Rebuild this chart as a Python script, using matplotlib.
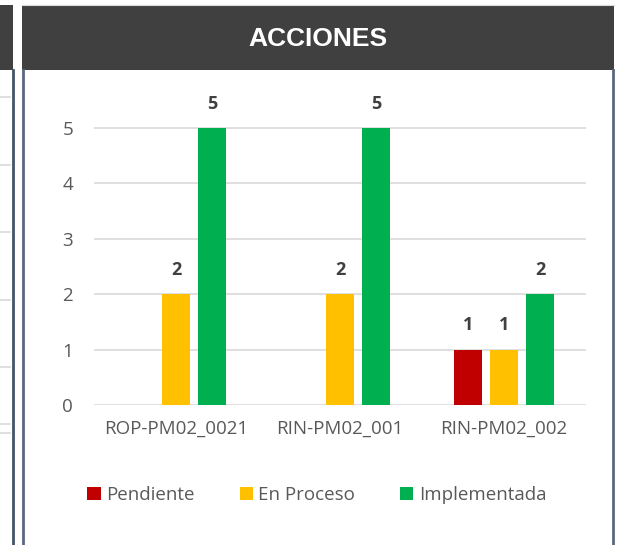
import numpy as np
import matplotlib.pyplot as plt
from matplotlib.patches import Rectangle
from matplotlib.lines import Line2D

categories = ["ROP-PM02_0021", "RIN-PM02_001", "RIN-PM02_002"]
series_names = ["Pendiente", "En Proceso", "Implementada"]
pendiente = [0, 0, 1]
en_proceso = [2, 2, 1]
implementada = [5, 5, 2]
colors = ["#C00000", "#FFC000", "#00B050"]

W, H = 620, 545
fig = plt.figure(figsize=(W / 100, H / 100), dpi=100)
plt.rcParams["font.family"] = ["Open Sans", "DejaVu Sans"]


def fx(px):
    return px / W


def fy(py):
    return 1 - py / H


# panel decoration (header bars and borders)
fig.patches.append(Rectangle((fx(0), fy(70)), fx(13), 65 / H, transform=fig.transFigure,
                             facecolor="#404040", edgecolor="none"))
fig.patches.append(Rectangle((fx(22), fy(70)), fx(592), 65 / H, transform=fig.transFigure,
                             facecolor="#404040", edgecolor="none"))
fig.lines.append(Line2D([fx(22), fx(614)], [fy(5), fy(5)], transform=fig.transFigure,
                        color="#d9d9d9", lw=0.8))
fig.lines.append(Line2D([fx(13), fx(13)], [fy(70), 0], transform=fig.transFigure,
                        color="#44546A", lw=2))
fig.lines.append(Line2D([fx(23), fx(23)], [fy(70), 0], transform=fig.transFigure,
                        color="#5a6780", lw=2))
fig.lines.append(Line2D([fx(613), fx(613)], [fy(70), 0], transform=fig.transFigure,
                        color="#5a6780", lw=2))
for yy in [97, 165, 232, 300, 367, 424, 433]:
    fig.lines.append(Line2D([0, fx(10)], [fy(yy), fy(yy)], transform=fig.transFigure,
                            color="#d9d9d9", lw=1.2))

fig.text(fx(318), fy(39), "ACCIONES", color="white", fontsize=19, fontweight="bold",
         family="Liberation Sans", ha="center", va="center")

# chart area
ax = fig.add_axes([fx(94), fy(405), fx(492), 332.4 / H])
x = np.arange(len(categories))
width = 0.171
step = 0.22
series = [pendiente, en_proceso, implementada]
for i, (name, vals) in enumerate(zip(series_names, series)):
    bars = ax.bar(x + (i - 1) * step, vals, width, color=colors[i], label=name, zorder=3)
    labels = [str(v) if v else "" for v in vals]
    ax.bar_label(bars, labels=labels, padding=11, fontsize=13, fontweight="bold",
                 color="#404040")

ax.set_xlim(-0.5, 2.5)
ax.set_ylim(0, 6)
ax.set_yticks(range(6))
ax.set_xticks(x)
ax.set_xticklabels(categories)
ax.grid(axis="y", color="#d9d9d9", lw=1.2, zorder=0)
for s in ax.spines.values():
    s.set_visible(False)
ax.tick_params(length=0, labelsize=13.5, labelcolor="#595959")
ax.tick_params(axis="y", pad=15)
ax.tick_params(axis="x", pad=11)

fig.legend(loc="center", bbox_to_anchor=(fx(317), fy(495)), ncol=3, frameon=False,
           fontsize=13.5, labelcolor="#595959", handlelength=0.7, handleheight=0.7,
           handletextpad=0.3, columnspacing=2.4)

fig.savefig("out.png", dpi=100)
